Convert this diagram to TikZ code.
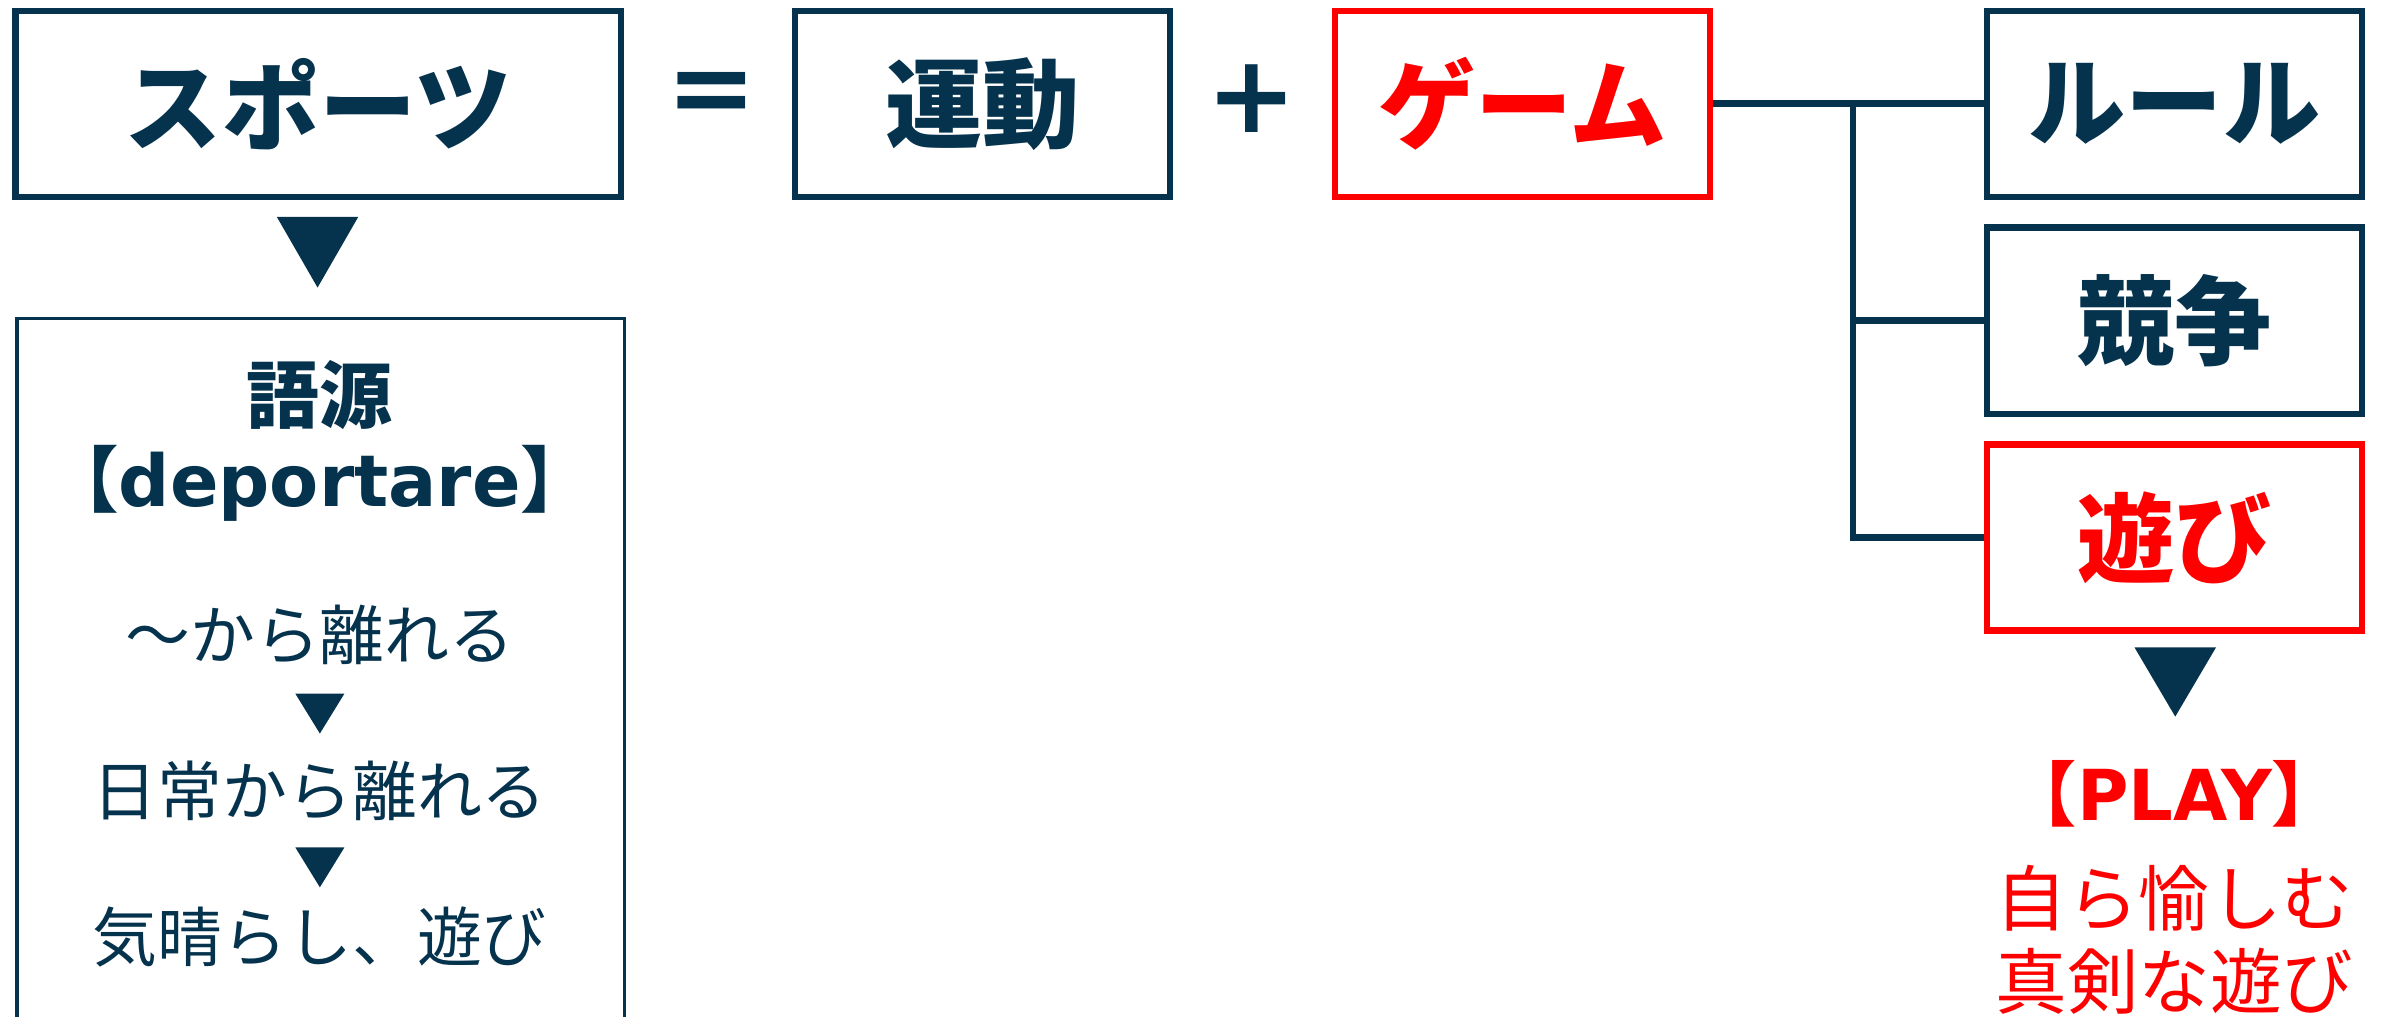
\documentclass[tikz,border=0pt]{standalone}
\usepackage{fontspec}
\setmainfont{DejaVu Sans}
\newfontfamily\jp{Noto Sans CJK JP}
\definecolor{navy}{HTML}{05334D}
\definecolor{pred}{HTML}{FF0000}
\tikzset{
  box/.style={draw=navy, line width=2.3pt, minimum width=4.88cm, minimum height=2.42cm,
    inner sep=0pt, text=navy, font=\jp\bfseries\fontsize{36}{40}\selectfont},
  redbox/.style={box, draw=pred, text=pred},
  link/.style={draw=navy, line width=2.5pt},
  note/.style={text=navy, inner sep=0pt, font=\jp\fontsize{24}{28}\selectfont},
}
\begin{document}
\begin{tikzpicture}[x=0.02cm, y=-0.02cm]
    \useasboundingbox (0,0) rectangle (1560,661);
    % top row
    \node[box, minimum width=7.88cm] (sports) at (207,67.5) {スポーツ};
    \node[text=navy, font=\bfseries\fontsize{40}{40}\selectfont] (eq) at (463,64) {=};
    \node[box] (undo) at (639,67.5) {運動};
    \node[text=navy, font=\bfseries\fontsize{40}{40}\selectfont] (plus) at (814,64) {+};
    \node[redbox] (game) at (990,67.5) {ゲーム};
    \node[box] (rule) at (1414,67.5) {ルール};
    \node[box] (kyoso) at (1414,208.5) {競争};
    \node[redbox] (asobi) at (1414,349.5) {遊び};
    \coordinate (fork) at (1205,67.5);
    \draw[link] (game.east) -- (rule.west);
    \draw[link] (fork) |- (kyoso.west);
    \draw[link] (fork) |- (asobi.west);
    \fill[navy] (180,141)--(233,141)--(206.5,187)--cycle;
    \fill[navy] (1388,421)--(1441,421)--(1414.5,466)--cycle;
    % origin of the word
    \node[draw=navy, line width=1.3pt, anchor=north west, minimum width=7.9cm,
        minimum height=10cm, inner sep=0pt] (origin) at (10,206) {};
    \node[note, font=\jp\bfseries\fontsize{27}{30}\selectfont] (gogen) at (208,257) {語源};
    \node[note, font=\bfseries\fontsize{26.5}{30}\selectfont] (latin) at (208,314) {{\jp【}deportare{\jp】}};
    \node[note] (step1) at (208,413) {～から離れる};
    \fill[navy] (192,451)--(224,451)--(208,477)--cycle;
    \node[note] (step2) at (208,514) {日常から離れる};
    \fill[navy] (192,551)--(224,551)--(208,577)--cycle;
    \node[note] (step3) at (208,609) {気晴らし、遊び};
    % play
    \node[note, text=pred, font=\bfseries\fontsize{26}{28}\selectfont] (play) at (1414,516) {{\jp【}PLAY{\jp】}};
    \node[note, text=pred, font=\jp\fontsize{26.5}{30}\selectfont] (mean1) at (1414,584) {自ら愉しむ};
    \node[note, text=pred, font=\jp\fontsize{26.5}{30}\selectfont] (mean2) at (1414,638) {真剣な遊び};
\end{tikzpicture}
\end{document}
